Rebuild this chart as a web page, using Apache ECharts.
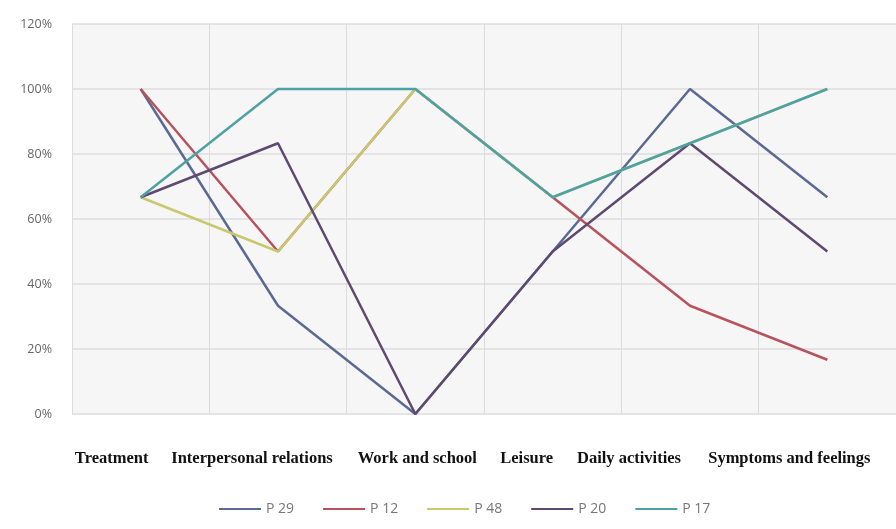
<!DOCTYPE html>
<html><head><meta charset="utf-8">
<script src="https://cdn.jsdelivr.net/npm/echarts@6/dist/echarts.min.js"></script>
<style>html,body{margin:0;padding:0;background:#fff}#c{width:896px;height:529px}</style>
</head><body><div id="c"></div>
<script>
const categories = ['Treatment', 'Interpersonal relations', 'Work and school', 'Leisure', 'Daily activities', 'Symptoms and feelings'];
const yTicks = [0, 20, 40, 60, 80, 100, 120];
const seriesNames = ['P 29', 'P 12', 'P 48', 'P 20', 'P 17'];
const p29 = [100, 33.3, 0, 50, 100, 66.7];
const p12 = [100, 50, 100, 66.7, 33.3, 16.7];
const p48 = [66.7, 50, 100, 66.7, 83.3, 100];
const p20 = [66.7, 83.3, 0, 50, 83.3, 50];
const p17 = [66.7, 100, 100, 66.7, 83.3, 100];
const colors = ['#5b6a92', '#b8525c', '#c8c86e', '#5e4a70', '#4fa2a4'];
const values = [p29, p12, p48, p20, p17];
// horizontal nudges of the category labels (px, negative = left), as in the reference
const labelShift = [-29, -26, 2, -26, -61, -38];

const rich = {};
labelShift.forEach((s, i) => {
  rich['c' + i] = {
    fontSize: 16.5, fontWeight: 'bold', fontFamily: 'Liberation Serif', color: '#111',
    padding: s < 0 ? [0, -2 * s, 0, 0] : [0, 0, 0, 2 * s]
  };
});

const chart = echarts.init(document.getElementById('c'));
chart.setOption({
  animation: false,
  backgroundColor: '#ffffff',
  color: colors,
  grid: { left: 72, right: 0, top: 24, bottom: 115, show: true, backgroundColor: '#f6f6f6', borderWidth: 0 },
  legend: {
    bottom: 8, left: 214,
    icon: 'rect', itemWidth: 42, itemHeight: 2, itemGap: 29,
    textStyle: { color: '#777', fontSize: 14, fontFamily: 'Open Sans' },
    data: seriesNames
  },
  xAxis: {
    type: 'category', data: categories, boundaryGap: true,
    axisLine: { show: false }, axisTick: { show: false },
    splitLine: { show: true, lineStyle: { color: '#dcdcdc', width: 1 } },
    axisLabel: {
      margin: 36, interval: 0,
      formatter: (v, i) => '{c' + i + '|' + v + '}',
      rich: rich
    }
  },
  yAxis: {
    type: 'value', min: yTicks[0], max: yTicks[yTicks.length - 1], interval: 20,
    axisLine: { show: false }, axisTick: { show: false },
    splitLine: { lineStyle: { color: '#dcdcdc', width: 1.5 } },
    axisLabel: { formatter: '{value}%', color: '#666', fontSize: 12.5, fontFamily: 'Open Sans', margin: 20 }
  },
  series: seriesNames.map((n, i) => ({
    name: n, type: 'line', data: values[i], showSymbol: false, symbol: 'none',
    lineStyle: { width: 2.5, color: colors[i] }, itemStyle: { color: colors[i] }
  }))
});
</script></body></html>
